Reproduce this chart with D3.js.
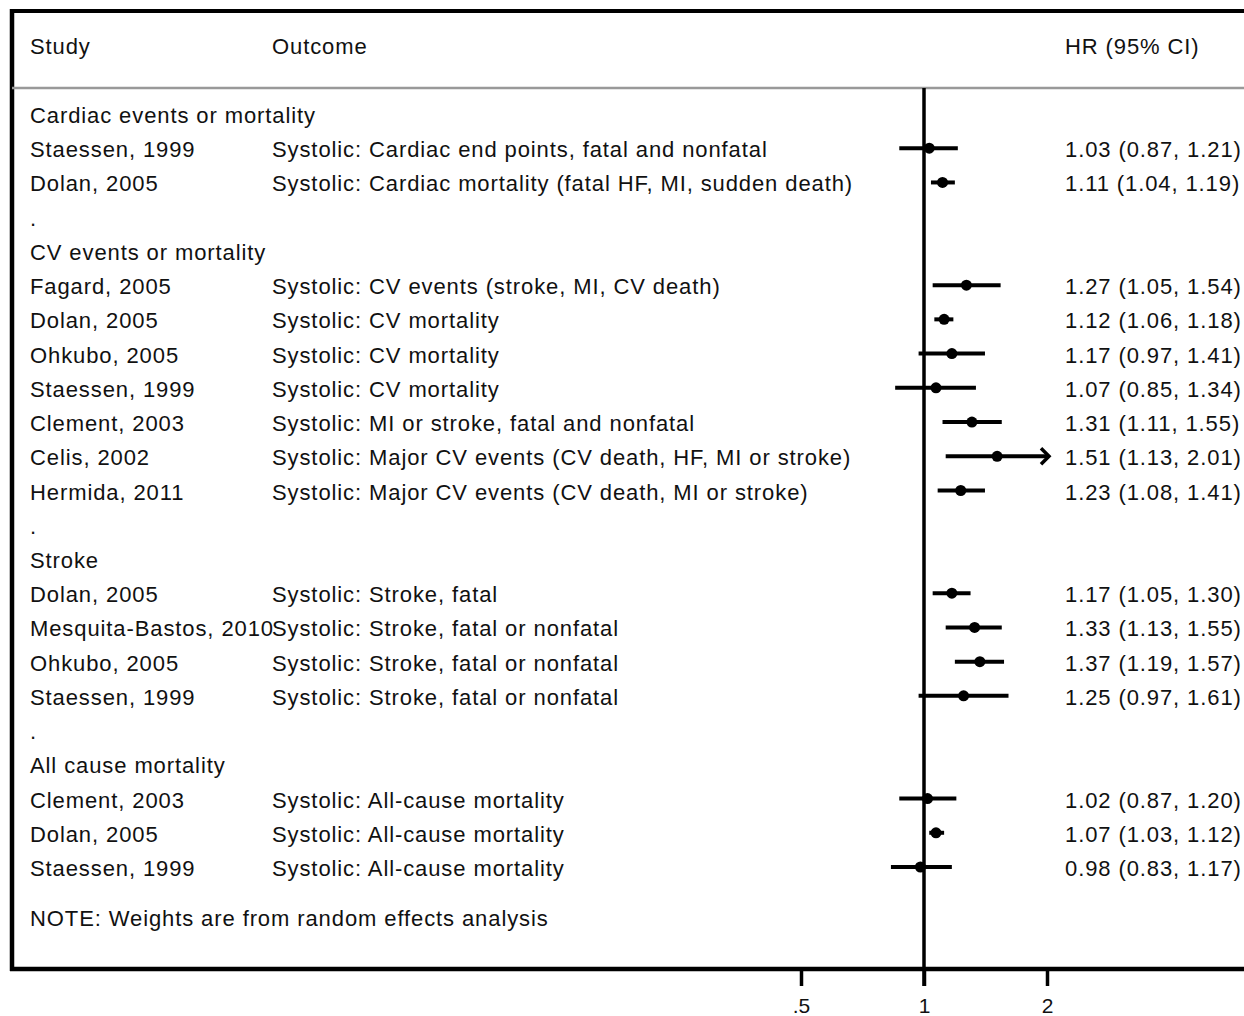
<!DOCTYPE html>
<html>
<head>
<meta charset="utf-8">
<script src="https://cdn.jsdelivr.net/npm/d3@7"></script>
<style>
  body { margin: 0; background: #fff; }
  svg { display: block; }
  .txt { font-family: 'Liberation Sans', Arial, sans-serif; font-size: 22px; letter-spacing: 0.9px; fill: #111; }
</style>
</head>
<body>
<svg id="chart"></svg>
<script>
// row labels (group headings have no outcome / estimate)
const studies = [
  'Cardiac events or mortality', 'Staessen, 1999', 'Dolan, 2005', '.',
  'CV events or mortality', 'Fagard, 2005', 'Dolan, 2005', 'Ohkubo, 2005',
  'Staessen, 1999', 'Clement, 2003', 'Celis, 2002', 'Hermida, 2011', '.',
  'Stroke', 'Dolan, 2005', 'Mesquita-Bastos, 2010', 'Ohkubo, 2005',
  'Staessen, 1999', '.',
  'All cause mortality', 'Clement, 2003', 'Dolan, 2005', 'Staessen, 1999'
];
const outcomes = [
  null, 'Systolic: Cardiac end points, fatal and nonfatal',
  'Systolic: Cardiac mortality (fatal HF, MI, sudden death)', null,
  null, 'Systolic: CV events (stroke, MI, CV death)', 'Systolic: CV mortality',
  'Systolic: CV mortality', 'Systolic: CV mortality',
  'Systolic: MI or stroke, fatal and nonfatal',
  'Systolic: Major CV events (CV death, HF, MI or stroke)',
  'Systolic: Major CV events (CV death, MI or stroke)', null,
  null, 'Systolic: Stroke, fatal', 'Systolic: Stroke, fatal or nonfatal',
  'Systolic: Stroke, fatal or nonfatal', 'Systolic: Stroke, fatal or nonfatal', null,
  null, 'Systolic: All-cause mortality', 'Systolic: All-cause mortality',
  'Systolic: All-cause mortality'
];
const hr = [null, 1.03, 1.11, null, null, 1.27, 1.12, 1.17, 1.07, 1.31, 1.51, 1.23, null,
  null, 1.17, 1.33, 1.37, 1.25, null, null, 1.02, 1.07, 0.98];
const lo = [null, 0.87, 1.04, null, null, 1.05, 1.06, 0.97, 0.85, 1.11, 1.13, 1.08, null,
  null, 1.05, 1.13, 1.19, 0.97, null, null, 0.87, 1.03, 0.83];
const hi = [null, 1.21, 1.19, null, null, 1.54, 1.18, 1.41, 1.34, 1.55, 2.01, 1.41, null,
  null, 1.30, 1.55, 1.57, 1.61, null, null, 1.20, 1.12, 1.17];

const tickValues = [0.5, 1, 2];
const tickLabels = ['.5', '1', '2'];

const w = 1244;
const h = 1016;
const boxLeft = 12;
const boxTop = 11;
const headLine = 88;
const boxBottom = 969;

const svg = d3.select('#chart').attr('width', w).attr('height', h);

const xScale = d3.scaleLog().domain([0.5, 2]).range([801, 1047]);
const yScale = d3.scaleLinear().domain([0, 22]).range([114, 867]);

const rows = studies.map((s, i) => ({ s, o: outcomes[i], hr: hr[i], lo: lo[i], hi: hi[i], i }));

// frame
svg.append('line').attr('x1', boxLeft).attr('x2', w + 5).attr('y1', boxTop).attr('y2', boxTop)
  .attr('stroke', '#000').attr('stroke-width', 4);
svg.append('line').attr('x1', boxLeft).attr('x2', boxLeft).attr('y1', boxTop - 2).attr('y2', boxBottom + 2)
  .attr('stroke', '#000').attr('stroke-width', 4.5);
svg.append('line').attr('x1', boxLeft).attr('x2', w + 5).attr('y1', headLine).attr('y2', headLine)
  .attr('stroke', '#999').attr('stroke-width', 2.5);

// header
svg.append('text').attr('class', 'txt').attr('x', 30).attr('y', 54).text('Study');
svg.append('text').attr('class', 'txt').attr('x', 272).attr('y', 54).text('Outcome');
svg.append('text').attr('class', 'txt').attr('x', 1065).attr('y', 54).text('HR (95% CI)');

// null line
svg.append('line').attr('x1', xScale(1)).attr('x2', xScale(1))
  .attr('y1', headLine).attr('y2', boxBottom + 17)
  .attr('stroke', '#000').attr('stroke-width', 3.5);

// axis along bottom of box
const xAxis = d3.axisBottom(xScale)
  .tickValues(tickValues)
  .tickFormat((d, i) => tickLabels[i])
  .tickSize(17);
const axisG = svg.append('g').attr('transform', 'translate(0,' + boxBottom + ')').call(xAxis);
axisG.select('.domain').remove();
axisG.selectAll('.tick line').attr('stroke', '#000').attr('stroke-width', 3.5);
axisG.selectAll('.tick text').attr('class', 'txt').attr('fill', '#111')
  .attr('y', 44).attr('dy', null).style('font-size', '21px').style('letter-spacing', '0px');
svg.append('line').attr('x1', boxLeft - 2).attr('x2', w + 5).attr('y1', boxBottom).attr('y2', boxBottom)
  .attr('stroke', '#000').attr('stroke-width', 4.5);

// left text columns
svg.selectAll('text.study').data(rows).enter().append('text')
  .attr('class', 'txt study').attr('x', 30).attr('y', (d) => yScale(d.i) + 9).text((d) => d.s);
const est = rows.filter((d) => d.hr !== null);
svg.selectAll('text.outcome').data(est).enter().append('text')
  .attr('class', 'txt outcome').attr('x', 272).attr('y', (d) => yScale(d.i) + 9).text((d) => d.o);
svg.selectAll('text.hr').data(est).enter().append('text')
  .attr('class', 'txt hr').attr('x', 1065).attr('y', (d) => yScale(d.i) + 9)
  .text((d) => `${d.hr.toFixed(2)} (${d.lo.toFixed(2)}, ${d.hi.toFixed(2)})`);

// confidence intervals, clipped at the axis max with an arrow
const xMax = xScale.domain()[1];
svg.selectAll('line.ci').data(est).enter().append('line')
  .attr('x1', (d) => xScale(d.lo)).attr('x2', (d) => xScale(Math.min(d.hi, xMax)))
  .attr('y1', (d) => yScale(d.i)).attr('y2', (d) => yScale(d.i))
  .attr('stroke', '#000').attr('stroke-width', 4);
svg.selectAll('path.arrow').data(est.filter((d) => d.hi > xMax)).enter().append('path')
  .attr('d', (d) => {
    const x = xScale(xMax) + 2;
    const y = yScale(d.i);
    return `M${x - 8},${y - 8}L${x},${y}L${x - 8},${y + 8}`;
  })
  .attr('fill', 'none').attr('stroke', '#000').attr('stroke-width', 3.5);

svg.selectAll('circle.pt').data(est).enter().append('circle')
  .attr('cx', (d) => xScale(d.hr)).attr('cy', (d) => yScale(d.i)).attr('r', 5.5)
  .attr('fill', '#000');

// note
svg.append('text').attr('class', 'txt').attr('x', 30).attr('y', yScale(23.45) + 9)
  .text('NOTE: Weights are from random effects analysis');
</script>
</body>
</html>
